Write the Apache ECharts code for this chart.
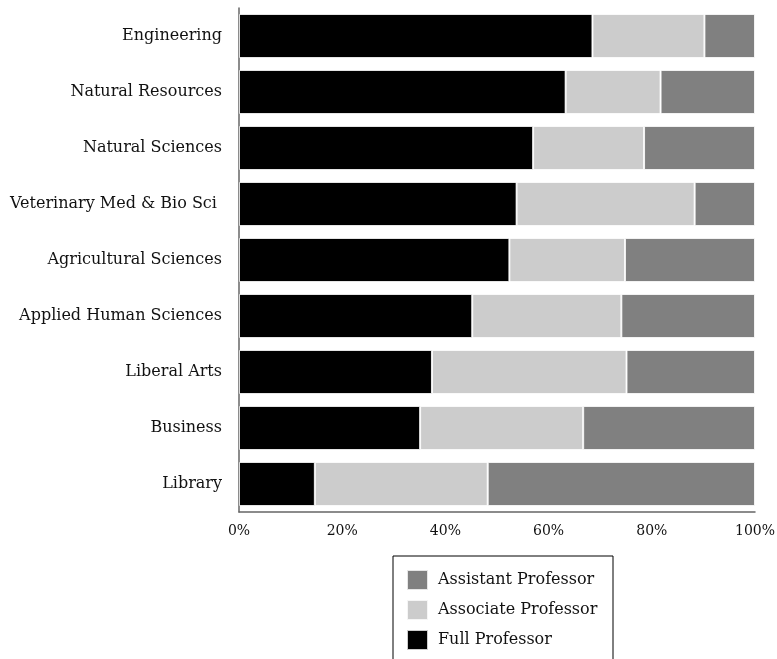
<!DOCTYPE html>
<html>
<head>
<meta charset="utf-8">
<script src="https://cdn.jsdelivr.net/npm/echarts@6/dist/echarts.min.js"></script>
<style>html,body{margin:0;padding:0;background:#fff;}#c{width:777px;height:659px;}</style>
</head>
<body>
<div id="c"></div>
<script>
const categories = ['Engineering','Natural Resources','Natural Sciences','Veterinary Med & Bio Sci ','Agricultural Sciences','Applied Human Sciences','Liberal Arts','Business','Library'];
const fullProfessor = [68.5, 63.3, 57.0, 53.8, 52.4, 45.2, 37.4, 35.1, 14.7];
const associateProfessor = [21.7, 18.4, 21.5, 34.5, 22.4, 28.9, 37.7, 31.6, 33.5];
const assistantProfessor = [9.8, 18.3, 21.5, 11.7, 25.2, 25.9, 24.9, 33.3, 51.8];
const xTicks = [0, 20, 40, 60, 80, 100];

const FONT = 'DejaVu Serif';
const chart = echarts.init(document.getElementById('c'), null, {renderer: 'canvas'});
const border = {borderColor: 'rgba(255,255,255,0.8)', borderWidth: 1};
chart.setOption({
  animation: false,
  textStyle: {fontFamily: FONT},
  grid: {left: 239, right: 22, top: 8, height: 504, outerBoundsMode: 'none', containLabel: false},
  xAxis: {
    type: 'value', min: xTicks[0], max: xTicks[xTicks.length - 1], interval: 20,
    axisLine: {show: true, lineStyle: {color: '#666', width: 1.5}},
    axisTick: {show: false},
    splitLine: {show: false},
    axisLabel: {formatter: v => v + '%', color: '#111', fontFamily: FONT, fontSize: 14, margin: 12}
  },
  yAxis: {
    type: 'category', data: categories, inverse: true,
    axisLine: {show: true, lineStyle: {color: '#666', width: 1.5}},
    axisTick: {show: false},
    axisLabel: {color: '#111', fontFamily: FONT, fontSize: 16, margin: 17}
  },
  legend: {
    orient: 'vertical', left: 393, top: 556, height: 90,
    data: ['Assistant Professor', 'Associate Professor', 'Full Professor'],
    icon: 'rect', itemWidth: 21, itemHeight: 20, itemGap: 8,
    borderColor: '#000', borderWidth: 1,
    padding: [13, 10, 40, 13],
    textStyle: {fontFamily: FONT, fontSize: 16, lineHeight: 20, color: '#111', width: 165, padding: [0, 0, 0, 5]}
  },
  series: [
    {name: 'Full Professor', type: 'bar', stack: 't', data: fullProfessor, barCategoryGap: '21.4%', itemStyle: Object.assign({color: '#000'}, border)},
    {name: 'Associate Professor', type: 'bar', stack: 't', data: associateProfessor, itemStyle: Object.assign({color: '#cccccc'}, border)},
    {name: 'Assistant Professor', type: 'bar', stack: 't', data: assistantProfessor, itemStyle: Object.assign({color: '#808080'}, border)}
  ]
});
</script>
</body>
</html>
